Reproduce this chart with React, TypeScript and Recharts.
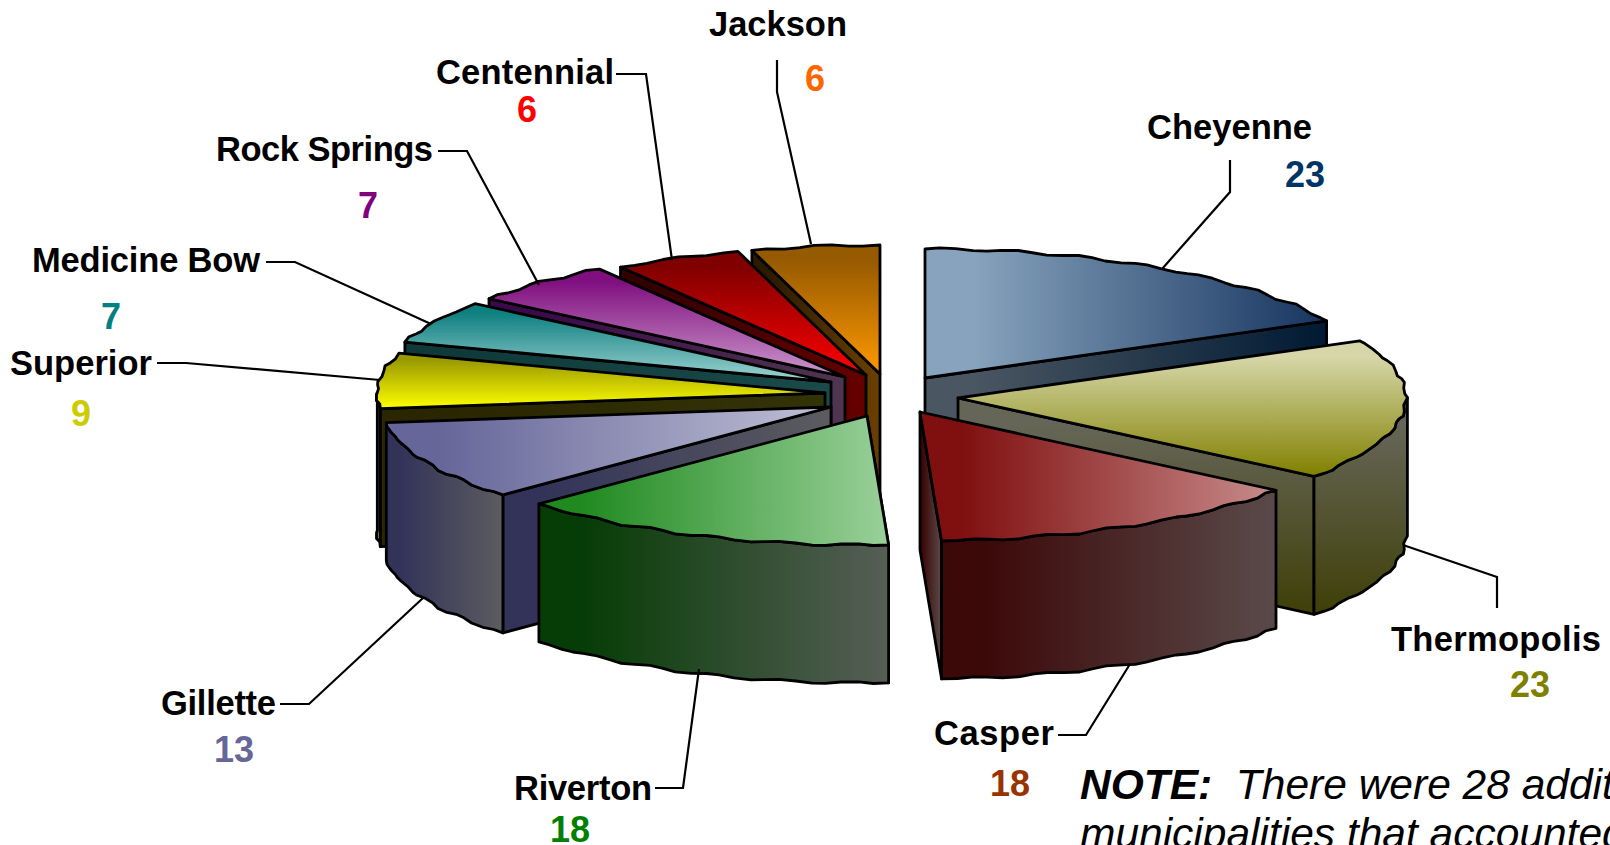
import { Pie, PieChart } from 'recharts';

const cities = ['Cheyenne', 'Thermopolis', 'Casper', 'Riverton', 'Gillette', 'Superior', 'Medicine Bow', 'Rock Springs', 'Centennial', 'Jackson'];
const counts = [23, 23, 18, 18, 13, 9, 7, 7, 6, 6];
const slices = cities.map((name, i) => ({ name, value: counts[i] }));

// back slices first, the pie is painted like a 3D stack
const paintOrder = ['Jackson', 'Centennial', 'Rock Springs', 'Medicine Bow', 'Superior', 'Gillette', 'Cheyenne', 'Thermopolis', 'Casper', 'Riverton'];

const W = 1610;
const H = 845;
const CX = 870;
const CY = 395;
const RX = 448;
const SQUASH = 0.288;
const DEPTH = 138;

type Look = {
  apex: [number, number]; // exploded tip of the slice, in page pixels
  vertical: boolean;
  top: [string, string];
  wall: [string, string];
  arc?: [string, string];
  valueColor: string;
  text: [number, number];
  textWidth: number;
  valueAt: [number, number];
  leader: string;
};

const LOOK: Record<string, Look> = {
  Cheyenne: {
    apex: [925, 378], vertical: false, top: ['#87a3bd', '#16345f'], wall: ['#4a5662', '#001a33'],
    valueColor: '#003366', text: [1147, 139], textWidth: 165, valueAt: [1305, 187], leader: '1230,160 1230,192 1162,269',
  },
  Thermopolis: {
    apex: [958, 398], vertical: true, top: ['#d6d6a8', '#808000'], wall: ['#666658', '#3f3f08'],
    valueColor: '#808000', text: [1391, 651], textWidth: 210, valueAt: [1530, 697], leader: '1497,608 1497,577 1403,545',
  },
  Casper: {
    apex: [920, 412], vertical: false, top: ['#801010', '#c88c8c'], wall: ['#3c0808', '#5a4a4a'],
    valueColor: '#993300', text: [934, 745], textWidth: 120, valueAt: [1010, 796], leader: '1058,735 1086,735 1130,664',
  },
  Riverton: {
    apex: [867, 416], vertical: false, top: ['#208a20', '#9ad09a'], wall: ['#063c06', '#565e56'],
    valueColor: '#008000', text: [514, 800], textWidth: 138, valueAt: [570, 842], leader: '655,788 683,788 699,669',
  },
  Gillette: {
    apex: [831, 407], vertical: false, top: ['#66669a', '#c0c0d6'], wall: ['#33335a', '#5c5c60'],
    valueColor: '#666699', text: [161, 715], textWidth: 115, valueAt: [234, 762], leader: '280,704 309,704 423,598',
  },
  Superior: {
    apex: [825, 393], vertical: true, top: ['#999900', '#ffff00'], wall: ['#2a2600', '#333308'], arc: ['#808000', '#808000'],
    valueColor: '#cccc00', text: [10, 375], textWidth: 142, valueAt: [81, 426], leader: '157,363 186,363 380,380',
  },
  'Medicine Bow': {
    apex: [831, 382], vertical: true, top: ['#0f8080', '#a0d4d4'], wall: ['#103a3a', '#1a4a4a'],
    valueColor: '#008080', text: [32, 272], textWidth: 228, valueAt: [111, 329], leader: '266,262 295,262 431,324',
  },
  'Rock Springs': {
    apex: [845, 377], vertical: true, top: ['#801080', '#cc99cc'], wall: ['#3a0a4a', '#4f3650'],
    valueColor: '#800080', text: [216, 161], textWidth: 217, valueAt: [368, 218], leader: '438,151 467,151 539,285',
  },
  Centennial: {
    apex: [866, 375], vertical: true, top: ['#800000', '#ff0000'], wall: ['#330000', '#660000'],
    valueColor: '#ff0000', text: [436, 84], textWidth: 178, valueAt: [527, 122], leader: '616,74 646,74 672,260',
  },
  Jackson: {
    apex: [880, 374], vertical: true, top: ['#965a00', '#ff9900'], wall: ['#2a1a00', '#6a4000'],
    valueColor: '#ff6600', text: [709, 36], textWidth: 138, valueAt: [815, 91], leader: '777,60 777,92 811,244',
  },
};

const FONT = '"Liberation Sans", Arial, sans-serif';
const rad = (d: number) => (d * Math.PI) / 180;

function Gradient({ id, colors, vertical }: { id: string; colors: [string, string]; vertical: boolean }) {
  return (
    <linearGradient id={id} x1="0" y1="0" x2={vertical ? 0 : 1} y2={vertical ? 1 : 0}>
      <stop offset="12%" stopColor={colors[0]} />
      <stop offset="100%" stopColor={colors[1]} />
    </linearGradient>
  );
}

// squashed wedge with an extruded wall, arc edge rough like the old export
function Slice3D(props: any) {
  const { startAngle, endAngle, index } = props;
  const look = LOOK[cities[index]];
  const [ax, ay] = look.apex;
  const steps = Math.max(3, Math.round(Math.abs(endAngle - startAngle) / 2));
  const angles: number[] = [];
  for (let i = 0; i <= steps; i++) angles.push(startAngle + ((endAngle - startAngle) * i) / steps);
  // the silhouette corners have to be on the rim for the wall to start at the right spot
  for (const turn of [0, -180, 180, -360]) {
    if ((startAngle - turn) * (endAngle - turn) < 0) angles.push(turn);
  }
  angles.sort((p, q) => (endAngle < startAngle ? q - p : p - q));

  const at = (a: number, rough: number): [number, number] => [
    ax + RX * Math.cos(rad(a)) + rough * 1.4 * Math.cos(a * 0.9),
    ay - RX * SQUASH * Math.sin(rad(a)) + rough * 1.3 * Math.sin(a * 0.7),
  ];
  const rim = angles.map((a, i) => at(a, i === 0 || i === angles.length - 1 ? 0 : 1));
  const front = rim.filter((_, i) => Math.sin(rad(angles[i])) <= 0.0001);
  const first = rim[0];
  const last = rim[rim.length - 1];
  // only the cut face turned to the viewer shows, the other one is hidden inside the slice
  const cut = Math.cos(rad((startAngle + endAngle) / 2)) > 0 ? last : first;
  const pts = (list: [number, number][]) => list.map((p) => `${p[0].toFixed(1)},${p[1].toFixed(1)}`).join(' ');
  const down = (p: [number, number]): [number, number] => [p[0], p[1] + DEPTH];
  const id = `s${index}`;
  const line = { stroke: '#000', strokeWidth: 2.8, strokeLinejoin: 'round' as const };
  const wallVertical = look.vertical && ax > 900;
  return (
    <g>
      <defs>
        <Gradient id={`${id}t`} colors={look.top} vertical={look.vertical} />
        <Gradient id={`${id}w`} colors={look.wall} vertical={wallVertical} />
        <Gradient id={`${id}a`} colors={look.arc ?? look.wall} vertical={wallVertical} />
      </defs>
      <polygon points={pts([[ax, ay], cut, down(cut), [ax, ay + DEPTH]])} fill={`url(#${id}w)`} {...line} />
      {front.length > 1 && (
        <polygon points={pts([...front, ...front.map(down).reverse()])} fill={`url(#${id}a)`} {...line} />
      )}
      <polygon points={pts([[ax, ay], ...rim])} fill={`url(#${id}t)`} {...line} />
    </g>
  );
}

function CityLabel({ name }: { name: string }) {
  const look = LOOK[name];
  return (
    <g fontFamily={FONT} fontWeight="bold">
      <polyline points={look.leader} fill="none" stroke="#000" strokeWidth={2.2} />
      <text x={look.text[0]} y={look.text[1]} fontSize={34.5} fill="#000" textLength={look.textWidth} lengthAdjust="spacing">
        {name}
      </text>
      <text x={look.valueAt[0]} y={look.valueAt[1]} fontSize={36} fill={look.valueColor} textAnchor="middle">
        {counts[cities.indexOf(name)]}
      </text>
    </g>
  );
}

export default function App() {
  return (
    <div style={{ position: 'fixed', left: 0, top: 0, width: W, height: H, overflow: 'hidden', background: '#fff' }}>
      <PieChart width={W} height={H} margin={{ top: 0, right: 0, bottom: 0, left: 0 }}>
        {paintOrder.map((city) => (
          <Pie
            key={city}
            data={slices}
            dataKey="value"
            nameKey="name"
            cx={CX}
            cy={CY}
            outerRadius={RX}
            startAngle={90}
            endAngle={-270}
            stroke="none"
            isAnimationActive={false}
            labelLine={false}
            shape={(p: any) => (cities[p.index] === city ? <Slice3D {...p} /> : <g />)}
            label={(p: any) => (cities[p.index] === city ? <CityLabel name={city} /> : <g />)}
          />
        ))}
        <text x={1080} y={799} fontFamily={FONT} fontSize={42.5} fontStyle="italic" fill="#000" xmlSpace="preserve">
          <tspan fontWeight="bold">NOTE:</tspan>
          {'  There were 28 additional'}
        </text>
        <text x={1080} y={848} fontFamily={FONT} fontSize={42.5} fontStyle="italic" fill="#000">
          municipalities that accounted
        </text>
      </PieChart>
    </div>
  );
}
